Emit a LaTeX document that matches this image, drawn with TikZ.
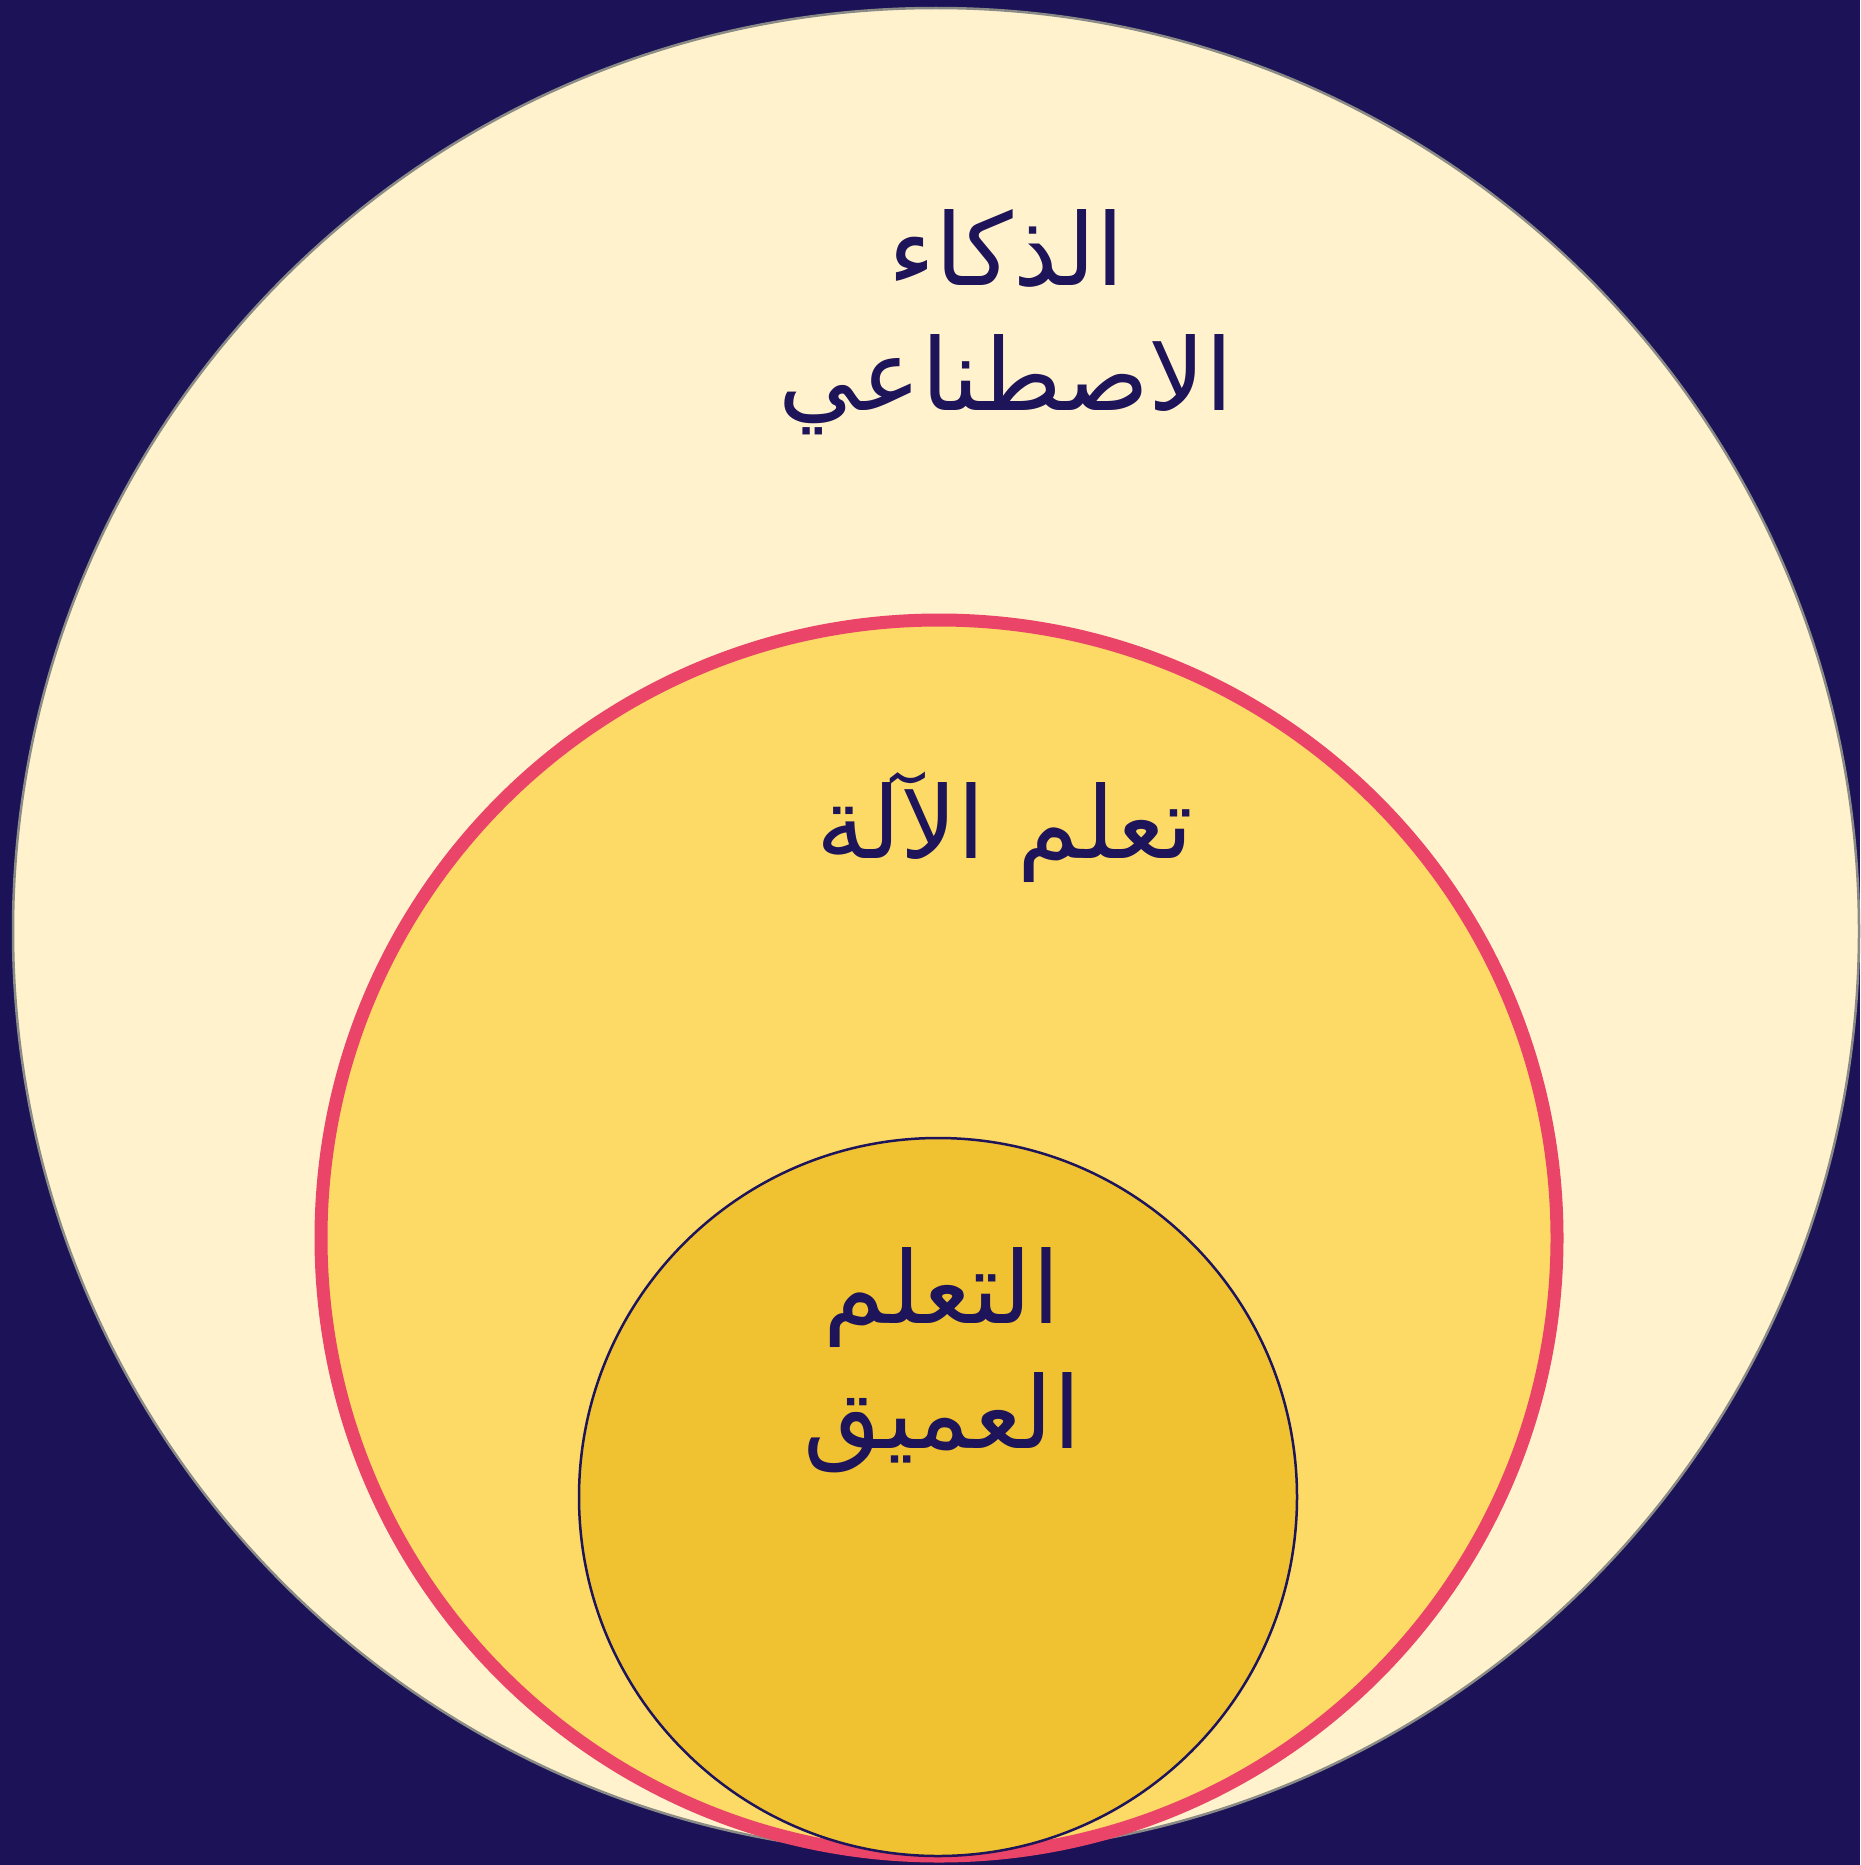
\documentclass[tikz,border=0pt]{standalone}
\usepackage{fontspec}
\usepackage{tikz}
\TeXXeTstate=1
\newfontfamily\arabicfont[Script=Arabic]{DejaVu Sans}
\definecolor{vnbg}{HTML}{1B1257}
\definecolor{vnink}{HTML}{1D1459}
\definecolor{vnai}{HTML}{FFF2CC}
\definecolor{vnaiedge}{HTML}{8A8A86}
\definecolor{vnml}{HTML}{FDD966}
\definecolor{vnmledge}{HTML}{EA4468}
\definecolor{vndl}{HTML}{F0C232}
\tikzset{
  ring/.style   = {circle, inner sep=0pt, outer sep=0pt},
  airing/.style = {ring, fill=vnai, draw=vnaiedge, line width=2.5pt},
  mlring/.style = {ring, fill=vnml, draw=vnmledge, line width=13pt},
  dlring/.style = {ring, fill=vndl, draw=vnink, line width=2.5pt},
  lbl/.style    = {font=\arabicfont\fontsize{100}{125}\selectfont, text=vnink,
                   align=center, inner sep=0pt},
}

\begin{document}
\begin{tikzpicture}[x=1pt, y=-1pt]
\fill[vnbg] (0,0) rectangle (1860,1865);
\useasboundingbox (0,0) rectangle (1860,1865);
% nested sets, outer to inner
\node[airing, minimum size=1846pt] (ai) at (936,931) {};
\node[mlring, minimum size=1236pt] (ml) at (939,1238) {};
\node[dlring, minimum size=718pt] (dl) at (938,1497) {};
% labels
\node[lbl] (ailbl) at (1006,322) {\beginR الذكاء\endR\\\beginR الاصطناعي\endR};
\node[lbl] (mllbl) at (1005,827) {\beginR تعلم الآلة\endR};
\node[lbl] (dllbl) at (942,1360) {\beginR التعلم\endR\\\beginR العميق\endR};
\end{tikzpicture}
\end{document}
